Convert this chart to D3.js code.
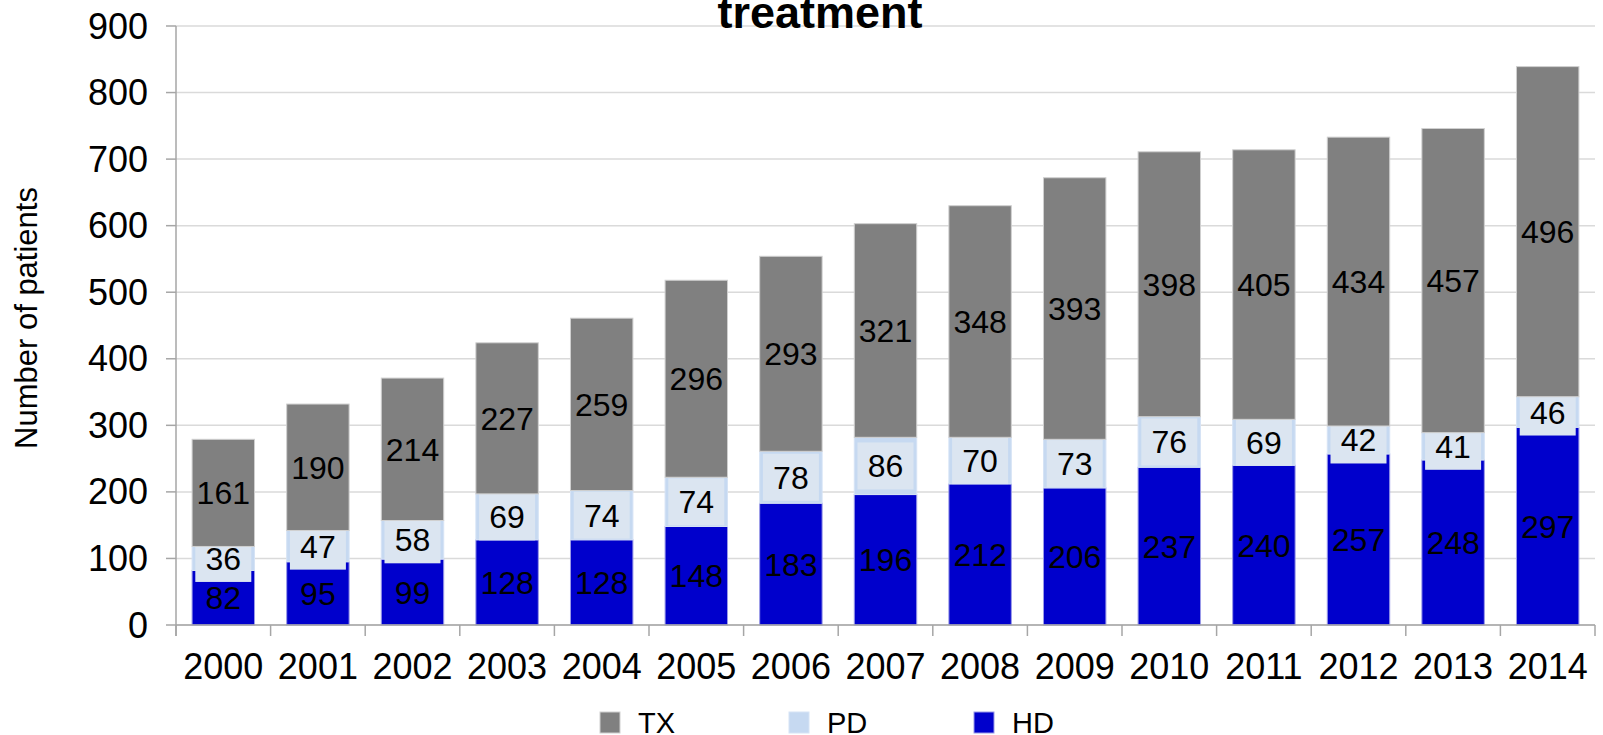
<!DOCTYPE html>
<meta charset="utf-8">
<script src="https://d3js.org/d3.v7.min.js"></script>
<style>
  body { margin: 0; background: #fff; }
  text { font-family: Arial, "Liberation Sans", sans-serif; fill: #000; }
</style>
<body></body>
<script>

// data
var years = ["2000","2001","2002","2003","2004","2005","2006","2007","2008","2009","2010","2011","2012","2013","2014"];
var hd = [82, 95, 99, 128, 128, 148, 183, 196, 212, 206, 237, 240, 257, 248, 297];
var pd = [36, 47, 58, 69, 74, 74, 78, 86, 70, 73, 76, 69, 42, 41, 46];
var tx = [161, 190, 214, 227, 259, 296, 293, 321, 348, 393, 398, 405, 434, 457, 496];
var seriesNames = ["HD", "PD", "TX"];
var yTicks = [0, 100, 200, 300, 400, 500, 600, 700, 800, 900];

var colors = { HD: "#0000cc", PD: "#c6d9f1", TX: "#808080" };
var strokes = { HD: "#9a9ae8", PD: "#d6e3f5", TX: "#d0d0d0" };

var width = 1603, height = 735;
var svg = d3.select("body").append("svg")
    .attr("width", width)
    .attr("height", height);

// scales
var x = d3.scaleBand().domain(years).range([176, 1595])
    .paddingInner(0.34).paddingOuter(0.17);
var y = d3.scaleLinear().domain([0, 900]).range([625, 26]);
var step = x.step();

// gridlines
svg.append("g").selectAll("line").data(yTicks).enter().append("line")
    .attr("x1", 176).attr("x2", 1595)
    .attr("y1", function(d){ return y(d); })
    .attr("y2", function(d){ return y(d); })
    .attr("stroke", "#dadada").attr("stroke-width", 1.5);

// stack
var rows = years.map(function(yr, i){ return { year: yr, HD: hd[i], PD: pd[i], TX: tx[i] }; });
var stack = d3.stack().keys(seriesNames)(rows);

var layers = svg.selectAll("g.layer").data(stack).enter().append("g")
    .attr("class", "layer");

layers.selectAll("rect").data(function(d){ return d; }).enter().append("rect")
    .attr("x", function(d){ return x(d.data.year); })
    .attr("width", x.bandwidth())
    .attr("y", function(d){ return y(d[1]); })
    .attr("height", function(d){ return y(d[0]) - y(d[1]); })
    .attr("fill", function(){ return colors[d3.select(this.parentNode).datum().key]; })
    .attr("stroke", function(){ return strokes[d3.select(this.parentNode).datum().key]; })
    .attr("stroke-width", 1);

// axes lines
svg.append("line").attr("x1", 176).attr("x2", 176).attr("y1", y(900)).attr("y2", 636)
    .attr("stroke", "#a6a6a6").attr("stroke-width", 1.5);
svg.append("line").attr("x1", 176).attr("x2", 1595).attr("y1", 625).attr("y2", 625)
    .attr("stroke", "#a6a6a6").attr("stroke-width", 1.5);

// y ticks + labels
svg.append("g").selectAll("line").data(yTicks).enter().append("line")
    .attr("x1", 166).attr("x2", 176)
    .attr("y1", function(d){ return y(d); }).attr("y2", function(d){ return y(d); })
    .attr("stroke", "#a6a6a6").attr("stroke-width", 1.5);
svg.append("g").selectAll("text").data(yTicks).enter().append("text")
    .attr("x", 148)
    .attr("y", function(d){ return y(d) + 12.5; })
    .attr("text-anchor", "end")
    .style("font-size", "36px")
    .text(function(d){ return d; });

// x ticks at band boundaries
var bounds = years.map(function(d){ return x(d) - (step - x.bandwidth()) / 2; });
bounds.push(1595);
svg.append("g").selectAll("line").data(bounds).enter().append("line")
    .attr("x1", function(d){ return d; }).attr("x2", function(d){ return d; })
    .attr("y1", 625).attr("y2", 636)
    .attr("stroke", "#a6a6a6").attr("stroke-width", 1.5);
svg.append("g").selectAll("text").data(years).enter().append("text")
    .attr("x", function(d){ return x(d) + x.bandwidth() / 2; })
    .attr("y", 679)
    .attr("text-anchor", "middle")
    .style("font-size", "36px")
    .text(function(d){ return d; });

// value labels
layers.each(function(layer){
  var g = d3.select(this);
  var isPD = layer.key === "PD";
  var lab = g.selectAll("g.lab").data(layer).enter().append("g")
      .attr("class", "lab")
      .attr("transform", function(d){
        return "translate(" + (x(d.data.year) + x.bandwidth() / 2) + "," + y((d[0] + d[1]) / 2) + ")";
      });
  if (isPD) {
    lab.append("rect")
        .attr("x", -28).attr("y", -23.5).attr("width", 56).attr("height", 47)
        .attr("fill", "#dbe5f1");
  }
  lab.append("text")
      .attr("y", 11.5)
      .attr("text-anchor", "middle")
      .style("font-size", "32px")
      .text(function(d){ return d[1] - d[0]; });
});

// title (partly cut off at the top)
svg.append("text")
    .attr("x", 820).attr("y", 28)
    .attr("text-anchor", "middle")
    .style("font-size", "45px").style("font-weight", "bold")
    .text("treatment");

// y axis label
svg.append("text")
    .attr("transform", "translate(37,318) rotate(-90)")
    .attr("text-anchor", "middle")
    .style("font-size", "31px")
    .text("Number of patients");

// legend
var legendItems = [
  { key: "TX", sx: 600, tx: 638 },
  { key: "PD", sx: 789, tx: 827 },
  { key: "HD", sx: 974, tx: 1012 }
];
var leg = svg.append("g").selectAll("g").data(legendItems).enter().append("g");
leg.append("rect")
    .attr("x", function(d){ return d.sx; }).attr("y", 712)
    .attr("width", 20).attr("height", 21)
    .attr("fill", function(d){ return colors[d.key]; })
    .attr("stroke", function(d){ return strokes[d.key]; });
leg.append("text")
    .attr("x", function(d){ return d.tx; }).attr("y", 733)
    .style("font-size", "29px")
    .text(function(d){ return d.key; });

</script>
